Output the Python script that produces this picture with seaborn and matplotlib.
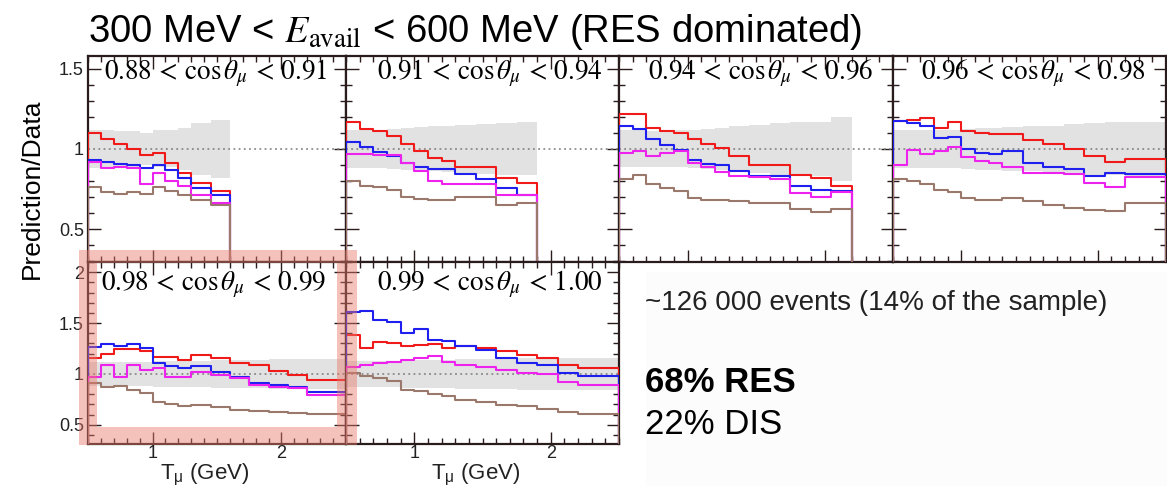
import numpy as np
import matplotlib
matplotlib.use("Agg")
import matplotlib.pyplot as plt
from matplotlib.patches import Rectangle
from matplotlib.ticker import MultipleLocator, FixedLocator, FuncFormatter, NullFormatter
import seaborn as sns

# ---------------- data ----------------
EDGES = [0.5, 0.6, 0.7, 0.8, 0.9, 1.0, 1.1, 1.2, 1.3, 1.45, 1.6, 1.75, 1.9, 2.05, 2.2, 2.5]

TITLES = [r"$0.88\,<\,\cos\theta_\mu\,<\,0.91$", r"$0.91\,<\,\cos\theta_\mu\,<\,0.94$",
          r"$0.94\,<\,\cos\theta_\mu\,<\,0.96$", r"$0.96\,<\,\cos\theta_\mu\,<\,0.98$",
          r"$0.98\,<\,\cos\theta_\mu\,<\,0.99$", r"$0.99\,<\,\cos\theta_\mu\,<\,1.00$"]

red_a = [1.10, 1.06, 1.03, 1.00, 0.965, 0.975, 0.91, 0.85, 0.79, 0.74]
blue_a = [0.93, 0.92, 0.905, 0.90, 0.88, 0.90, 0.87, 0.82, 0.755, 0.71]
mag_a = [0.92, 0.88, 0.89, 0.88, 0.78, 0.85, 0.80, 0.77, 0.715, 0.66]
brown_a = [0.76, 0.73, 0.72, 0.73, 0.72, 0.76, 0.735, 0.71, 0.68, 0.65]
band_a = [0.12, 0.12, 0.11, 0.11, 0.10, 0.115, 0.115, 0.13, 0.16, 0.18]

red_b = [1.167, 1.125, 1.11, 1.083, 1.033, 0.985, 0.944, 0.927, 0.89, 0.89, 0.82, 0.79]
blue_b = [1.046, 1.01, 0.98, 0.958, 0.91, 0.89, 0.877, 0.875, 0.846, 0.81, 0.756, 0.71]
mag_b = [0.97, 0.97, 0.96, 0.96, 0.91, 0.86, 0.80, 0.78, 0.78, 0.78, 0.71, 0.71]
brown_b = [0.80, 0.77, 0.76, 0.745, 0.70, 0.69, 0.68, 0.68, 0.70, 0.70, 0.65, 0.66]
band_b = [0.12, 0.12, 0.12, 0.125, 0.13, 0.135, 0.14, 0.145, 0.15, 0.155, 0.16, 0.165]

red_c = [1.215, 1.215, 1.13, 1.11, 1.10, 1.06, 1.03, 1.006, 0.958, 0.90, 0.90, 0.84, 0.82, 0.77]
blue_c = [1.146, 1.125, 1.06, 1.027, 0.996, 0.933, 0.908, 0.90, 0.86, 0.833, 0.83, 0.767, 0.746, 0.74]
mag_c = [0.975, 0.99, 0.954, 0.975, 0.99, 0.91, 0.89, 0.854, 0.83, 0.823, 0.81, 0.725, 0.70, 0.73]
brown_c = [0.81, 0.84, 0.78, 0.756, 0.735, 0.694, 0.68, 0.683, 0.673, 0.66, 0.66, 0.625, 0.606, 0.625]
band_c = [0.115, 0.115, 0.11, 0.11, 0.115, 0.12, 0.125, 0.13, 0.14, 0.15, 0.16, 0.165, 0.17, 0.20]

red_d = [1.173, 1.18, 1.19, 1.13, 1.167, 1.11, 1.10, 1.09, 1.096, 1.058, 1.033, 1.0, 0.954, 0.917, 0.94]
blue_d = [1.173, 1.16, 1.146, 1.07, 1.075, 1.0, 0.975, 0.97, 0.985, 0.91, 0.89, 0.875, 0.833, 0.85, 0.846]
mag_d = [0.90, 0.996, 0.97, 0.985, 1.01, 0.95, 0.923, 0.91, 0.89, 0.85, 0.85, 0.846, 0.79, 0.76, 0.825]
brown_d = [0.81, 0.80, 0.78, 0.746, 0.73, 0.694, 0.683, 0.68, 0.694, 0.673, 0.652, 0.63, 0.62, 0.615, 0.66]
band_d = [0.12, 0.12, 0.12, 0.12, 0.12, 0.125, 0.13, 0.13, 0.135, 0.14, 0.145, 0.155, 0.16, 0.165, 0.17]

red_e = [1.16, 1.20, 1.24, 1.24, 1.22, 1.17, 1.17, 1.14, 1.19, 1.16, 1.11, 1.09, 1.03, 0.99, 0.935]
blue_e = [1.263, 1.29, 1.273, 1.29, 1.257, 1.107, 1.073, 1.057, 1.073, 1.023, 0.973, 0.913, 0.89, 0.873, 0.823]
mag_e = [0.973, 1.09, 0.973, 1.09, 1.04, 1.057, 0.973, 0.973, 1.023, 0.99, 0.957, 0.89, 0.873, 0.857, 0.79]
brown_e = [0.907, 0.867, 0.88, 0.84, 0.807, 0.723, 0.707, 0.68, 0.697, 0.673, 0.647, 0.63, 0.623, 0.617, 0.607]
band_e = [0.12, 0.12, 0.12, 0.12, 0.12, 0.125, 0.125, 0.13, 0.13, 0.135, 0.14, 0.14, 0.145, 0.15, 0.15]

red_f = [1.38, 1.25, 1.317, 1.30, 1.27, 1.284, 1.29, 1.25, 1.275, 1.258, 1.22, 1.186, 1.154, 1.088, 1.056]
blue_f = [1.61, 1.62, 1.53, 1.51, 1.40, 1.44, 1.33, 1.327, 1.27, 1.235, 1.154, 1.105, 1.088, 1.007, 0.974]
mag_f = [1.065, 1.088, 1.105, 1.12, 1.137, 1.154, 1.176, 1.12, 1.088, 1.07, 1.04, 1.007, 0.997, 0.915, 0.89]
brown_f = [1.013, 0.98, 0.958, 0.925, 0.843, 0.827, 0.804, 0.778, 0.745, 0.72, 0.696, 0.68, 0.654, 0.62, 0.605]
band_f = [0.13, 0.13, 0.13, 0.13, 0.135, 0.135, 0.14, 0.14, 0.145, 0.15, 0.15, 0.155, 0.155, 0.16, 0.16]

MAIN_TITLE = r"300 MeV < $E_{\mathrm{avail}}$ < 600 MeV (RES dominated)"
YLABEL = "Prediction/Data"
XLABEL = r"T$_{\rm μ}$ (GeV)"
NOTE1 = "~126 000 events (14% of the sample)"
NOTE2 = "68% RES"
NOTE3 = "22% DIS"

# ---------------- style ----------------
sns.set_theme(style="ticks")
plt.rcParams["font.family"] = ["Liberation Sans", "DejaVu Sans"]
plt.rcParams["mathtext.fontset"] = "custom"
plt.rcParams["mathtext.rm"] = "Liberation Sans"
plt.rcParams["mathtext.it"] = "Liberation Sans:italic"
plt.rcParams["mathtext.bf"] = "Liberation Sans:bold"

COL_RED = "#f01a1a"
COL_BLUE = "#1f1ff0"
COL_MAG = "#ee22ee"
COL_BROWN = "#9a786c"
SPINE = "#2a1c1c"

W, H = 1167, 486
fig = plt.figure(figsize=(W / 100, H / 100), dpi=100)
fig.patch.set_facecolor("white")


def ax_px(x0, y0, x1, y1):
    return fig.add_axes([x0 / W, 1 - y1 / H, (x1 - x0) / W, (y1 - y0) / H])


def draw_panel(ax, red, blue, mag, brown, band, ylim, top_row, left_col):
    n = len(red)
    e = np.array(EDGES[: n + 1])
    hw = np.array(band)
    lo = np.r_[1 - hw, 1 - hw[-1]]
    hi = np.r_[1 + hw, 1 + hw[-1]]
    ax.fill_between(e, lo, hi, step="post", color="#e2e2e2", lw=0, zorder=1)
    ax.axhline(1.0, color="#7a7a7a", ls=(0, (1.2, 2.2)), lw=1.1, zorder=2)
    for vals, col in [(red, COL_RED), (blue, COL_BLUE), (mag, COL_MAG), (brown, COL_BROWN)]:
        xs = np.r_[e[0], e, e[-1]]
        ys = np.r_[0.0, vals, vals[-1], 0.0]
        sns.lineplot(x=xs, y=ys, ax=ax, drawstyle="steps-post", sort=False,
                     estimator=None, color=col, lw=1.5, legend=False, zorder=3)
    ax.set_xlim(0.5, 2.5)
    ax.set_ylim(*ylim)
    ax.set_xlabel("")
    ax.set_ylabel("")
    for s in ax.spines.values():
        s.set_visible(True)
        s.set_color(SPINE)
        s.set_linewidth(1.6)
    ax.xaxis.set_major_locator(FixedLocator([1, 2]))
    ax.xaxis.set_minor_locator(MultipleLocator(0.1))
    ax.yaxis.set_major_locator(MultipleLocator(0.5))
    ax.yaxis.set_minor_locator(MultipleLocator(0.1))
    ax.tick_params(which="both", direction="in", top=True, right=True,
                   color=SPINE, width=1.0, labelsize=13, labelcolor="#222222", pad=3)
    ax.tick_params(which="major", length=9)
    ax.tick_params(which="minor", length=4.5)
    fmt = FuncFormatter(lambda v, p: f"{v:g}")
    if left_col:
        ax.yaxis.set_major_formatter(fmt)
    else:
        ax.yaxis.set_major_formatter(NullFormatter())
    if top_row:
        ax.xaxis.set_major_formatter(NullFormatter())
    else:
        ax.xaxis.set_major_formatter(fmt)
        ax.tick_params(axis="x", which="major", pad=1)
    ax.set_facecolor("white")


TOP_Y = (56, 262)
BOT_Y = (262, 444)
TOP_LIM = (0.294, 1.58)
BOT_LIM = (0.31, 2.1)

panels = [
    ((88, 346), TOP_Y, (red_a, blue_a, mag_a, brown_a, band_a), TOP_LIM, True, True),
    ((346, 619), TOP_Y, (red_b, blue_b, mag_b, brown_b, band_b), TOP_LIM, True, False),
    ((619, 893), TOP_Y, (red_c, blue_c, mag_c, brown_c, band_c), TOP_LIM, True, False),
    ((893, 1166), TOP_Y, (red_d, blue_d, mag_d, brown_d, band_d), TOP_LIM, True, False),
    ((88, 346), BOT_Y, (red_e, blue_e, mag_e, brown_e, band_e), BOT_LIM, False, True),
    ((346, 619), BOT_Y, (red_f, blue_f, mag_f, brown_f, band_f), BOT_LIM, False, False),
]
title_pos = [(216, 79), (490, 79), (761, 79), (1033, 79), (214, 290), (490, 290)]
xlabel_x = {4: 205, 5: 476}

for i, ((xr, yr, data, lim, top, left), title, (tx, ty)) in enumerate(zip(panels, TITLES, title_pos)):
    ax = ax_px(xr[0], yr[0], xr[1], yr[1])
    draw_panel(ax, *data, lim, top, left)
    fig.text(tx / W, 1 - ty / H, title, ha="center", va="baseline",
             fontsize=19.5, math_fontfamily="stix", color="black")
    if not top:
        fig.text(xlabel_x[i] / W, 1 - 475 / H, XLABEL, ha="center",
                 va="center", fontsize=16, color="#222222")

# light background of the note area
fig.patches.append(Rectangle((646 / W, 0), (W - 646) / W, 1 - 272 / H,
                             transform=fig.transFigure, facecolor="#fcfcfc",
                             edgecolor="none", zorder=0))

# pink highlight frame around the 0.98-0.99 panel
pink = dict(transform=fig.transFigure, facecolor="#e8786a", alpha=0.45,
            edgecolor="none", zorder=5)
for (x0, y0, x1, y1) in [(79, 250, 357, 263), (79, 427, 357, 445),
                         (79, 263, 97, 427), (337, 263, 357, 427)]:
    fig.patches.append(Rectangle((x0 / W, 1 - y1 / H), (x1 - x0) / W, (y1 - y0) / H, **pink))

# texts
fig.text(88 / W, 1 - 42 / H, MAIN_TITLE, ha="left", va="baseline", fontsize=27.5,
         math_fontfamily="stix", color="black")
fig.text(32 / W, 1 - 189 / H, YLABEL, rotation=90, ha="center", va="center",
         fontsize=19, color="black")
fig.text(645 / W, 1 - 303 / H, NOTE1, ha="left", va="center", fontsize=20, color="#222222")
fig.text(645 / W, 1 - 382 / H, NOTE2, ha="left", va="center", fontsize=25,
         fontweight="bold", color="black")
fig.text(645 / W, 1 - 425 / H, NOTE3, ha="left", va="center", fontsize=25, color="black")

fig.savefig("out.png", dpi=100)
